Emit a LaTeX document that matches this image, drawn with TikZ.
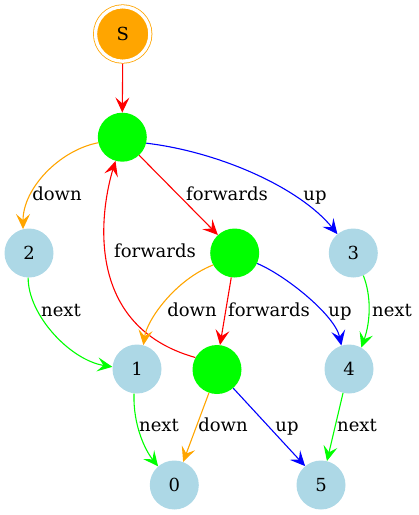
\documentclass[tikz,border=0pt]{standalone}
\usepackage{fontspec}
\setmainfont{DejaVu Serif}
\usetikzlibrary{arrows.meta}
\definecolor{lightblue}{RGB}{173,216,230}
\definecolor{gv green}{RGB}{0,255,0}
\definecolor{gv orange}{RGB}{255,165,0}
\begin{document}
\begin{tikzpicture}[x=1pt,y=-1pt,
  every node/.style={font=\fontsize{18}{20}\selectfont},
  st/.style={circle,inner sep=0pt,minimum size=49pt,fill=gv green},
  leaf/.style={circle,inner sep=0pt,minimum size=49pt,fill=lightblue},
  start/.style={circle,inner sep=0pt,minimum size=54.4pt,fill=gv orange,draw=gv orange,
     line width=0.8pt,double=white,double distance=3.3pt,outer sep=2.5pt},
  lbl/.style={anchor=base,inner sep=0pt},
  edge/.style={line width=1.1pt,-{Stealth[length=15pt,width=14pt,inset=6pt]}},
]
\useasboundingbox (0,0) rectangle (419,515);

\node[start] (S) at (122.7,34) {S};
\node[st] (G1) at (122.3,137.2) {};
\node[leaf] (n2) at (29,253) {2};
\node[st] (G2) at (234.7,253) {};
\node[leaf] (n3) at (353.3,253) {3};
\node[leaf] (n1) at (137,369) {1};
\node[st] (G3) at (217,369.5) {};
\node[leaf] (n4) at (349,369) {4};
\node[leaf] (n0) at (174.3,485) {0};
\node[leaf] (n5) at (321,485) {5};

% edges
\draw[edge,red] (S.270) -- (G1.90);
\draw[edge,gv orange] (G1.193) .. controls (60,150) and (23,188) .. (n2.104);
\draw[edge,red] (G1.313) -- (G2.133);
\draw[edge,blue] (G1.346) .. controls (220,152) and (300,188) .. (n3.130);
\draw[edge,gv green] (n2.268) .. controls (28,315) and (70,360) .. (n1.175);
\draw[edge,red] (G3.151) .. controls (80,325) and (102,205) .. (G1.254);
\draw[edge,gv orange] (G2.209) .. controls (175,280) and (147,320) .. (n1.75);
\draw[edge,red] (G2.262) -- (G3.83);
\draw[edge,blue] (G2.335) .. controls (285,275) and (335,315) .. (n4.108);
\draw[edge,gv green] (n3.294) .. controls (371,295) and (371,320) .. (n4.60);
\draw[edge,gv green] (n1.263) .. controls (133,425) and (145,450) .. (n0.131);
\draw[edge,gv orange] (G3.251) -- (n0.69);
\draw[edge,blue] (G3.311) -- (n5.130);
\draw[edge,gv green] (n4.256) -- (n5.76);

% labels
\node[lbl] (l1) at (57,200) {down};
\node[lbl] (l2) at (227,200) {forwards};
\node[lbl] (l3) at (315,200) {up};
\node[lbl] (l4) at (155,257.5) {forwards};
\node[lbl] (l5) at (61,316) {next};
\node[lbl] (l6) at (192,316) {down};
\node[lbl] (l7) at (269,316) {forwards};
\node[lbl] (l8) at (340,316) {up};
\node[lbl] (l9) at (392,316) {next};
\node[lbl] (l10) at (159,431.5) {next};
\node[lbl] (l11) at (223,431.5) {down};
\node[lbl] (l12) at (287,431.5) {up};
\node[lbl] (l13) at (357,431.5) {next};
\end{tikzpicture}
\end{document}
